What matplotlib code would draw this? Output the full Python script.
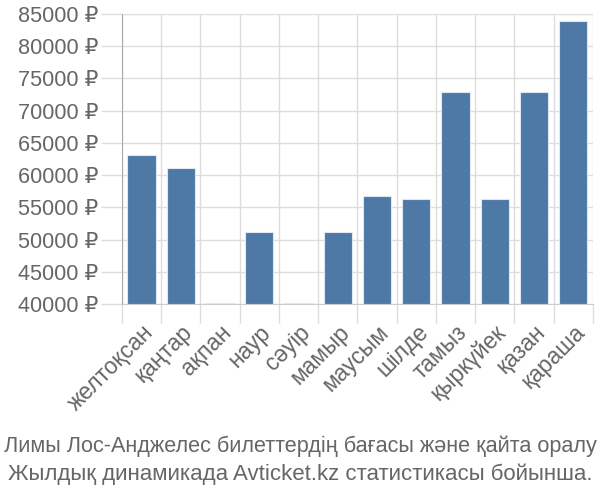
import matplotlib
matplotlib.use("Agg")
import matplotlib.pyplot as plt
import numpy as np

plt.rcParams['font.family'] = ['Liberation Sans', 'DejaVu Sans']

months = ["желтоқсан", "қаңтар", "ақпан", "наур", "сәуір", "мамыр",
          "маусым", "шілде", "тамыз", "қыркүйек", "қазан", "қараша"]
prices = [63100, 61100, 40200, 51100, 40200, 51100,
          56800, 56300, 72900, 56300, 72900, 83900]
yticks = [40000, 45000, 50000, 55000, 60000, 65000, 70000, 75000, 80000, 85000]
caption = ["Лимы Лос-Анджелес билеттердің бағасы және қайта оралу",
           "Жылдық динамикада Avticket.kz статистикасы бойынша."]

fig = plt.figure(figsize=(6, 5), dpi=100)
ax = fig.add_axes([0.203, 0.392, 0.785, 0.58])

x = np.arange(len(months))
ax.bar(x, [p - 40000 for p in prices], bottom=40000, width=0.72,
       color="#4e79a7", edgecolor="#dfe7f0", linewidth=0.8, zorder=3)

ax.set_xlim(-0.5, len(months) - 0.5)
ax.set_ylim(40000, 85000)
ax.set_yticks(yticks)
ax.set_yticklabels([f"{v} ₽" for v in yticks], fontsize=15.6, color="#666666")
ax.set_xticks(x)
ax.set_xticklabels(months, rotation=45, ha="right", rotation_mode="anchor",
                   fontsize=16.5, color="#666666")
ax.set_xticks(np.arange(-0.5, len(months), 1.0), minor=True)

ax.tick_params(axis='x', which='major', length=0, pad=12)
ax.tick_params(axis='x', which='minor', length=14, color="#dddddd", width=1)
ax.tick_params(axis='y', length=15, color="#dddddd", width=1, pad=2)

ax.grid(axis='y', which='major', color="#dddddd", linewidth=1, zorder=0)
ax.grid(axis='x', which='minor', color="#dddddd", linewidth=1, zorder=0)

for s in ['top', 'right']:
    ax.spines[s].set_visible(False)
ax.spines['left'].set_color("#aaaaaa")
ax.spines['bottom'].set_color("#cccccc")

fig.text(0.5, 0.108, caption[0], ha='center', va='center', fontsize=15.6, color="#666666")
fig.text(0.5, 0.052, caption[1], ha='center', va='center', fontsize=16, color="#666666")

fig.savefig("out.png", dpi=100)
